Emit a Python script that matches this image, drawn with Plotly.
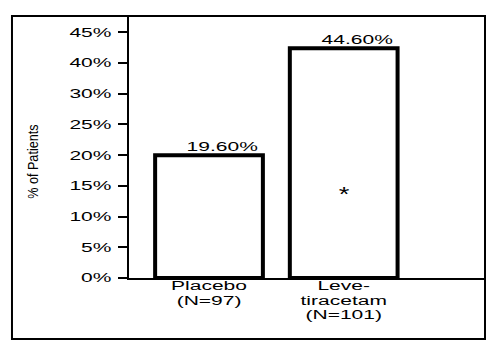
import plotly.graph_objects as go

# ---- data ----
categories = ["Placebo<br>(N=97)", "Leve-<br>tiracetam<br>(N=101)"]
bar_heights = [20.0, 37.4]          # bar tops as drawn against the (unevenly labelled) axis
value_labels = ["19.60%", "44.60%"]
tick_values = [0, 5, 10, 15, 20, 25, 30, 35, 40]
tick_labels = ["0%", "5%", "10%", "15%", "20%", "25%", "30%", "40%", "45%"]
marker_text = "*"
marker_y = 14.4
y_title = "% of Patients"

FONT = "Liberation Sans, Arial, sans-serif"
x_pos = list(range(len(categories)))

fig = go.Figure()
fig.add_bar(
    x=x_pos, y=bar_heights, width=0.80,
    marker=dict(color="white", line=dict(color="black", width=4)),
    hoverinfo="skip",
)

annotations = []
for i, (h, lab) in enumerate(zip(bar_heights, value_labels)):
    annotations.append(dict(x=x_pos[i], y=h, text=lab, showarrow=False,
                            xanchor="center", yanchor="bottom", xshift=13, yshift=-1,
                            font=dict(family=FONT, size=12.5, color="black")))
annotations.append(dict(x=x_pos[1], y=marker_y, text=marker_text, showarrow=False,
                        xanchor="center", yanchor="middle", yshift=-4,
                        font=dict(family=FONT, size=21, color="black")))
annotations.append(dict(xref="paper", yref="paper", x=-0.27, y=0.443, text=y_title,
                        textangle=-90, showarrow=False, xanchor="center", yanchor="middle",
                        font=dict(family=FONT, size=15, color="black")))

fig.update_layout(
    width=501, height=343,
    margin=dict(l=129, r=16, t=16, b=65),
    paper_bgcolor="white", plot_bgcolor="white",
    showlegend=False,
    annotations=annotations,
    shapes=[dict(type="rect", xref="paper", yref="paper",
                 x0=-0.3287, x1=1.0, y0=-0.2328, y1=1.0,
                 line=dict(color="black", width=2), fillcolor="rgba(0,0,0,0)", layer="above")],
    xaxis=dict(range=[-0.594, 2.049], tickvals=x_pos, ticktext=categories,
               showline=True, linecolor="black", linewidth=2, ticks="",
               ticklabelstandoff=-5,
               showgrid=False, zeroline=False, fixedrange=True,
               tickfont=dict(family=FONT, size=12.5, color="black")),
    yaxis=dict(range=[0, 42.65], tickvals=tick_values, ticktext=tick_labels,
               showline=True, linecolor="black", linewidth=2,
               ticks="outside", ticklen=9, tickwidth=2, tickcolor="black",
               ticklabelstandoff=4,
               showgrid=False, zeroline=False, fixedrange=True,
               tickfont=dict(family=FONT, size=12.5, color="black")),
)

# The scanned original is stretched horizontally; widen the text glyphs to match,
# and tighten the line spacing of the multi-line category labels.
js = r"""
var gd = document.getElementById('{plot_id}');
var items = gd.querySelectorAll('text');
items.forEach(function(t){
  var txt = t.textContent || '';
  var f = 1.68;
  if (txt.indexOf('Patients') >= 0) { f = 0.84; }
  if (txt.trim() === '*') { f = 1.3; }
  var lines = t.querySelectorAll('tspan.line');
  var els = lines.length ? Array.prototype.slice.call(lines) : [t];
  els.forEach(function(e){
    var dy = e.getAttribute('dy');
    if (dy && /em$/.test(dy)) {
      var v = parseFloat(dy);
      if (v > 0) { e.setAttribute('dy', (v * 1.16 / 1.3).toFixed(3) + 'em'); }
    }
    var L = e.getComputedTextLength();
    if (L > 0) {
      e.setAttribute('textLength', (L * f).toFixed(2));
      e.setAttribute('lengthAdjust', 'spacingAndGlyphs');
    }
  });
});
"""

fig.write_html("out.html", post_script=js, config={"staticPlot": True})
